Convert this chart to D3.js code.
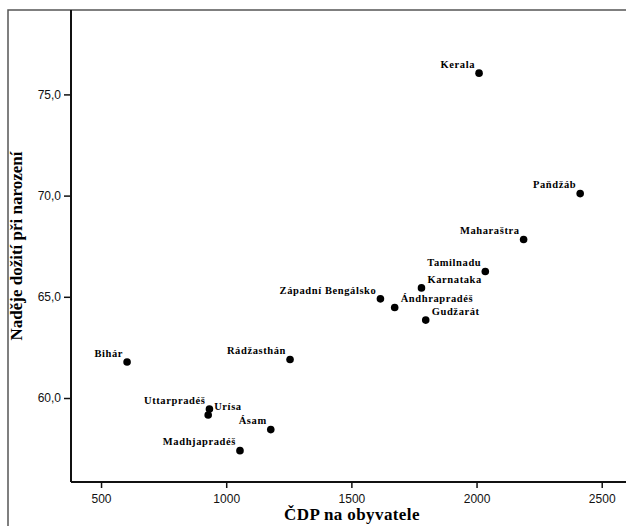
<!DOCTYPE html>
<html>
<head>
<meta charset="utf-8">
<script src="https://cdn.jsdelivr.net/npm/d3@7"></script>
<style>
  body { margin: 0; background: #fff; }
  svg { display: block; }
</style>
</head>
<body>
<div id="chart"></div>
<script>
// state names, GDP per capita, life expectancy
const states = ["Kerala", "Paňdžáb", "Maharaštra", "Tamilnadu", "Karnataka", "Západní Bengálsko",
  "Ándhrapradéš", "Gudžarát", "Rádžasthán", "Bihár", "Uttarpradéš", "Urísa", "Ásam", "Madhjapradéš"];
const gdp = [2010, 2414, 2188, 2035, 1780, 1616, 1673, 1797, 1255, 604, 933, 928, 1178, 1055];
const lifeExp = [76.05, 70.1, 67.83, 66.25, 65.44, 64.9, 64.47, 63.85, 61.9, 61.78, 59.46, 59.16, 58.44, 57.4];
const xTicks = [500, 1000, 1500, 2000, 2500];
const yTicks = [60, 65, 70, 75];

const data = states.map((s, i) => ({ name: s, x: gdp[i], y: lifeExp[i] }));

// labels that sit to the right of their dot, the rest go on the left
const rightLabels = new Set(["Karnataka", "Ándhrapradéš", "Gudžarát", "Urísa"]);

const width = 626, height = 526;
const svg = d3.select("#chart").append("svg")
  .attr("width", width)
  .attr("height", height);

const x = d3.scaleLinear().domain([380, 2597]).range([71, 626]);
const y = d3.scaleLinear().domain([55.85, 79.17]).range([482, 10]);

// outer frame
svg.append("path")
  .attr("d", "M8,526V10H626")
  .attr("fill", "none")
  .attr("stroke", "#555")
  .attr("stroke-width", 1.5);

// axes
const xAxis = svg.append("g")
  .attr("transform", "translate(0,482)")
  .call(d3.axisBottom(x).tickValues(xTicks).tickSize(6).tickSizeOuter(0).tickPadding(6)
    .tickFormat(d3.format("d")));
const yAxis = svg.append("g")
  .attr("transform", "translate(71,0)")
  .call(d3.axisLeft(y).tickValues(yTicks).tickSize(7).tickSizeOuter(0).tickPadding(3)
    .tickFormat(d => d3.format(".1f")(d).replace(".", ",")));

[xAxis, yAxis].forEach(g => {
  g.select(".domain").attr("stroke", "#111").attr("stroke-width", 2);
  g.selectAll(".tick line").attr("stroke", "#111").attr("stroke-width", 1.5);
  g.selectAll(".tick text")
    .attr("fill", "#111")
    .style("font-family", "'Liberation Sans', Arial, sans-serif")
    .style("font-size", "12px");
});
xAxis.select(".domain").attr("d", "M71,0H626");
yAxis.select(".domain").attr("d", "M0,10V482");

// points
svg.append("g")
  .selectAll("circle")
  .data(data)
  .enter()
  .append("circle")
  .attr("cx", d => x(d.x))
  .attr("cy", d => y(d.y))
  .attr("r", 3.8)
  .attr("fill", "#000");

// point labels
svg.append("g")
  .selectAll("text")
  .data(data)
  .enter()
  .append("text")
  .attr("x", d => rightLabels.has(d.name) ? x(d.x) + 6 : x(d.x) - 4)
  .attr("y", d => y(d.y) - 9)
  .attr("dy", "0.35em")
  .attr("text-anchor", d => rightLabels.has(d.name) ? "start" : "end")
  .style("font-family", "'Liberation Serif', 'Times New Roman', serif")
  .style("font-weight", "bold")
  .style("font-size", "10.5px")
  .style("letter-spacing", "0.6px")
  .text(d => d.name);

// axis titles
svg.append("text")
  .attr("x", 352)
  .attr("y", 520)
  .attr("text-anchor", "middle")
  .style("font-family", "'Liberation Serif', 'Times New Roman', serif")
  .style("font-weight", "bold")
  .style("font-size", "17px")
  .style("letter-spacing", "0.4px")
  .text("ČDP na obyvatele");

svg.append("text")
  .attr("transform", "translate(22,246) rotate(-90)")
  .attr("text-anchor", "middle")
  .style("font-family", "'Liberation Serif', 'Times New Roman', serif")
  .style("font-weight", "bold")
  .style("font-size", "17px")
  .text("Naděje dožití při narození");
</script>
</body>
</html>
